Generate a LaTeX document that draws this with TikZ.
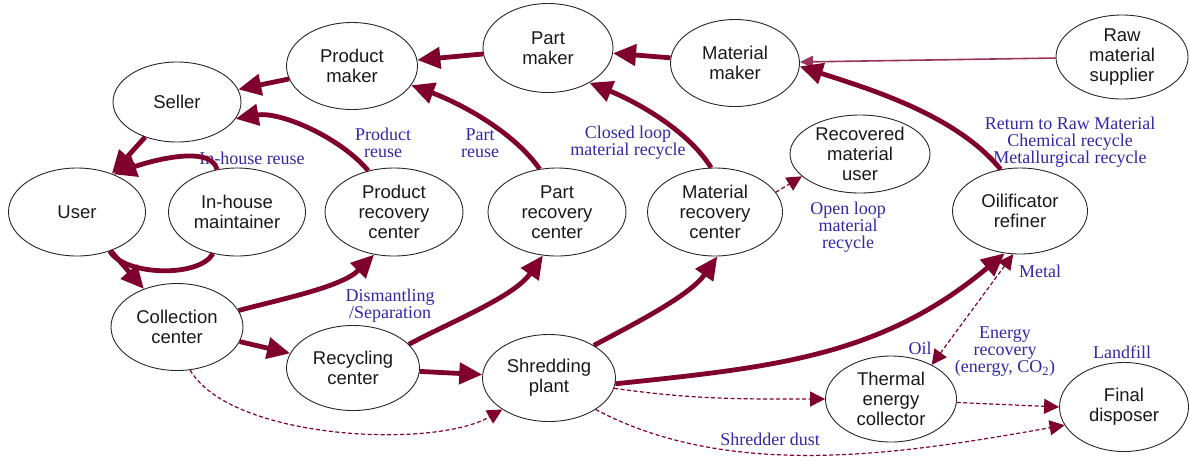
\documentclass[tikz,border=0pt]{standalone}
\usepackage{fontspec}
\setmainfont{Liberation Serif}
\setsansfont{Liberation Sans}
\usetikzlibrary{shapes.geometric,arrows.meta}
\definecolor{flowred}{RGB}{128,0,45}
\definecolor{noteblue}{RGB}{50,40,165}

\begin{document}
\begin{tikzpicture}[x=1pt,y=1pt,
  stage/.style={draw=black!85, line width=0.9pt, ellipse, inner sep=0pt, align=center,
    text=black!90, font=\sffamily\fontsize{18.5}{20}\selectfont},
  flow/.style={draw=flowred, line width=4.8pt, -{Triangle[length=23pt,width=21pt]}},
  supply/.style={draw=flowred!80, line width=1.6pt, -{Triangle[length=13pt,width=12pt]}},
  waste/.style={draw=flowred, line width=1.2pt, dash pattern=on 4pt off 2.5pt,
    -{Triangle[length=15pt,width=15pt]}},
  note/.style={text=noteblue, align=center, inner sep=0pt, font=\fontsize{18}{17}\selectfont}]
\useasboundingbox (0,0) rectangle (1190,-459);

% Define the stages of the life cycle
\foreach \name/\x/\y/\w/\h/\txt in {
  seller/177/102/128/80/Seller,
  pmaker/352/66/131/87/{Product\\maker},
  ptmaker/548/48/130/89/{Part\\maker},
  mmaker/735/63/129/87/{Material\\maker},
  raw/1122/57/132/84/{Raw\\material\\supplier},
  user/77/212/137/88/User,
  mnt/237/212/137/88/{In-house\\maintainer},
  prc/394/212/138/88/{Product\\recovery\\center},
  parc/557/212/138/88/{Part\\recovery\\center},
  mrc/715/212/135/88/{Material\\recovery\\center},
  rmu/860/154/140/78/{Recovered\\material\\user},
  oil/1020/211/135/86/{Oilificator\\refiner},
  coll/177/327/132/87/{Collection\\center},
  recy/353/368/133/85/{Recycling\\center},
  shred/549/378/133/87/{Shredding\\plant},
  thermal/891/399/131/86/{Thermal\\energy\\collector},
  final/1124/407/129/89/{Final\\disposer}}
  \node[stage, minimum width=\w pt, minimum height=\h pt] (\name) at (\x,-\y) {\txt};

% Define the labels of the loops
\node[note] (inhouse) at (252,-158) {In-house reuse};
\node[note] (preuse) at (383,-143) {Product\\reuse};
\node[note] (ptreuse) at (480,-143) {Part\\reuse};
\node[note] (closed) at (628,-143) {Closed loop\\material recycle};
\node[note] (open) at (848,-227) {Open loop\\material\\recycle};
\node[note] (rawret) at (1070,-142) {Return to Raw Material\\Chemical recycle\\Metallurgical recycle};
\node[note] (dism) at (390,-306) {Dismantling\\/Separation};
\node[note] (oillbl) at (920,-348) {Oil};
\node[note] (metal) at (1040,-271) {Metal};
\node[note] (energy) at (1005,-352) {Energy\\recovery\\(energy, CO\textsubscript{2})};
\node[note] (landfill) at (1122,-352) {Landfill};
\node[note] (dust) at (770,-439) {Shredder dust};

% Draw the forward chain
\draw[flow] (pmaker) -- (seller);
\draw[flow] (ptmaker) -- (pmaker);
\draw[flow] (mmaker) -- (ptmaker);
\draw[supply] (raw) -- (mmaker);
\draw[flow] (seller) -- (user);
\draw[flow] (user) -- (coll);
\draw[flow] (coll) -- (recy);
\draw[flow] (recy) -- (shred);

% Draw the reuse and recycle loops
\draw[flow] (mnt.115) to[out=105,in=20,looseness=0.7] (user.46);
\draw[flow, -] (user.-50) to[out=-60,in=-120,looseness=0.7] (mnt.-120);
\draw[flow] (prc.122) to[out=130,in=10,looseness=0.8] (seller.-16);
\draw[flow] (parc.112) to[out=125,in=-20,looseness=0.8] (pmaker.-18);
\draw[flow] (mrc.95) to[out=122,in=-22,looseness=0.8] (ptmaker.-40);
\draw[flow] (oil.115) to[out=129,in=-18,looseness=0.8] (mmaker.-3);
\draw[flow] (coll.15) to[out=15,in=-135,looseness=0.8] (prc.-115);
\draw[flow] (recy.23) to[out=28,in=-125,looseness=0.8] (parc.-108);
\draw[flow] (shred.36) to[out=28,in=-125,looseness=0.8] (mrc.-87);
\draw[flow] (shred.-5) to[out=6,in=-140] (oil.-110);

% Draw the dashed flows
\draw[waste] (mrc.18) -- (rmu.-159);
\draw[waste, {Triangle[length=15pt,width=15pt]}-{Triangle[length=15pt,width=15pt]}] (thermal.40) -- (oil.-99);
\draw[waste] (coll.-73) to[out=-60,in=210,looseness=0.65] (shred.-146);
\draw[waste] (shred.-9) to[out=-8,in=180] (thermal.west);
\draw[waste] (thermal.-3) -- (final.west);
\draw[waste] (shred.-34) to[out=-28,in=190,looseness=0.85] (final.-163);
\end{tikzpicture}
\end{document}
